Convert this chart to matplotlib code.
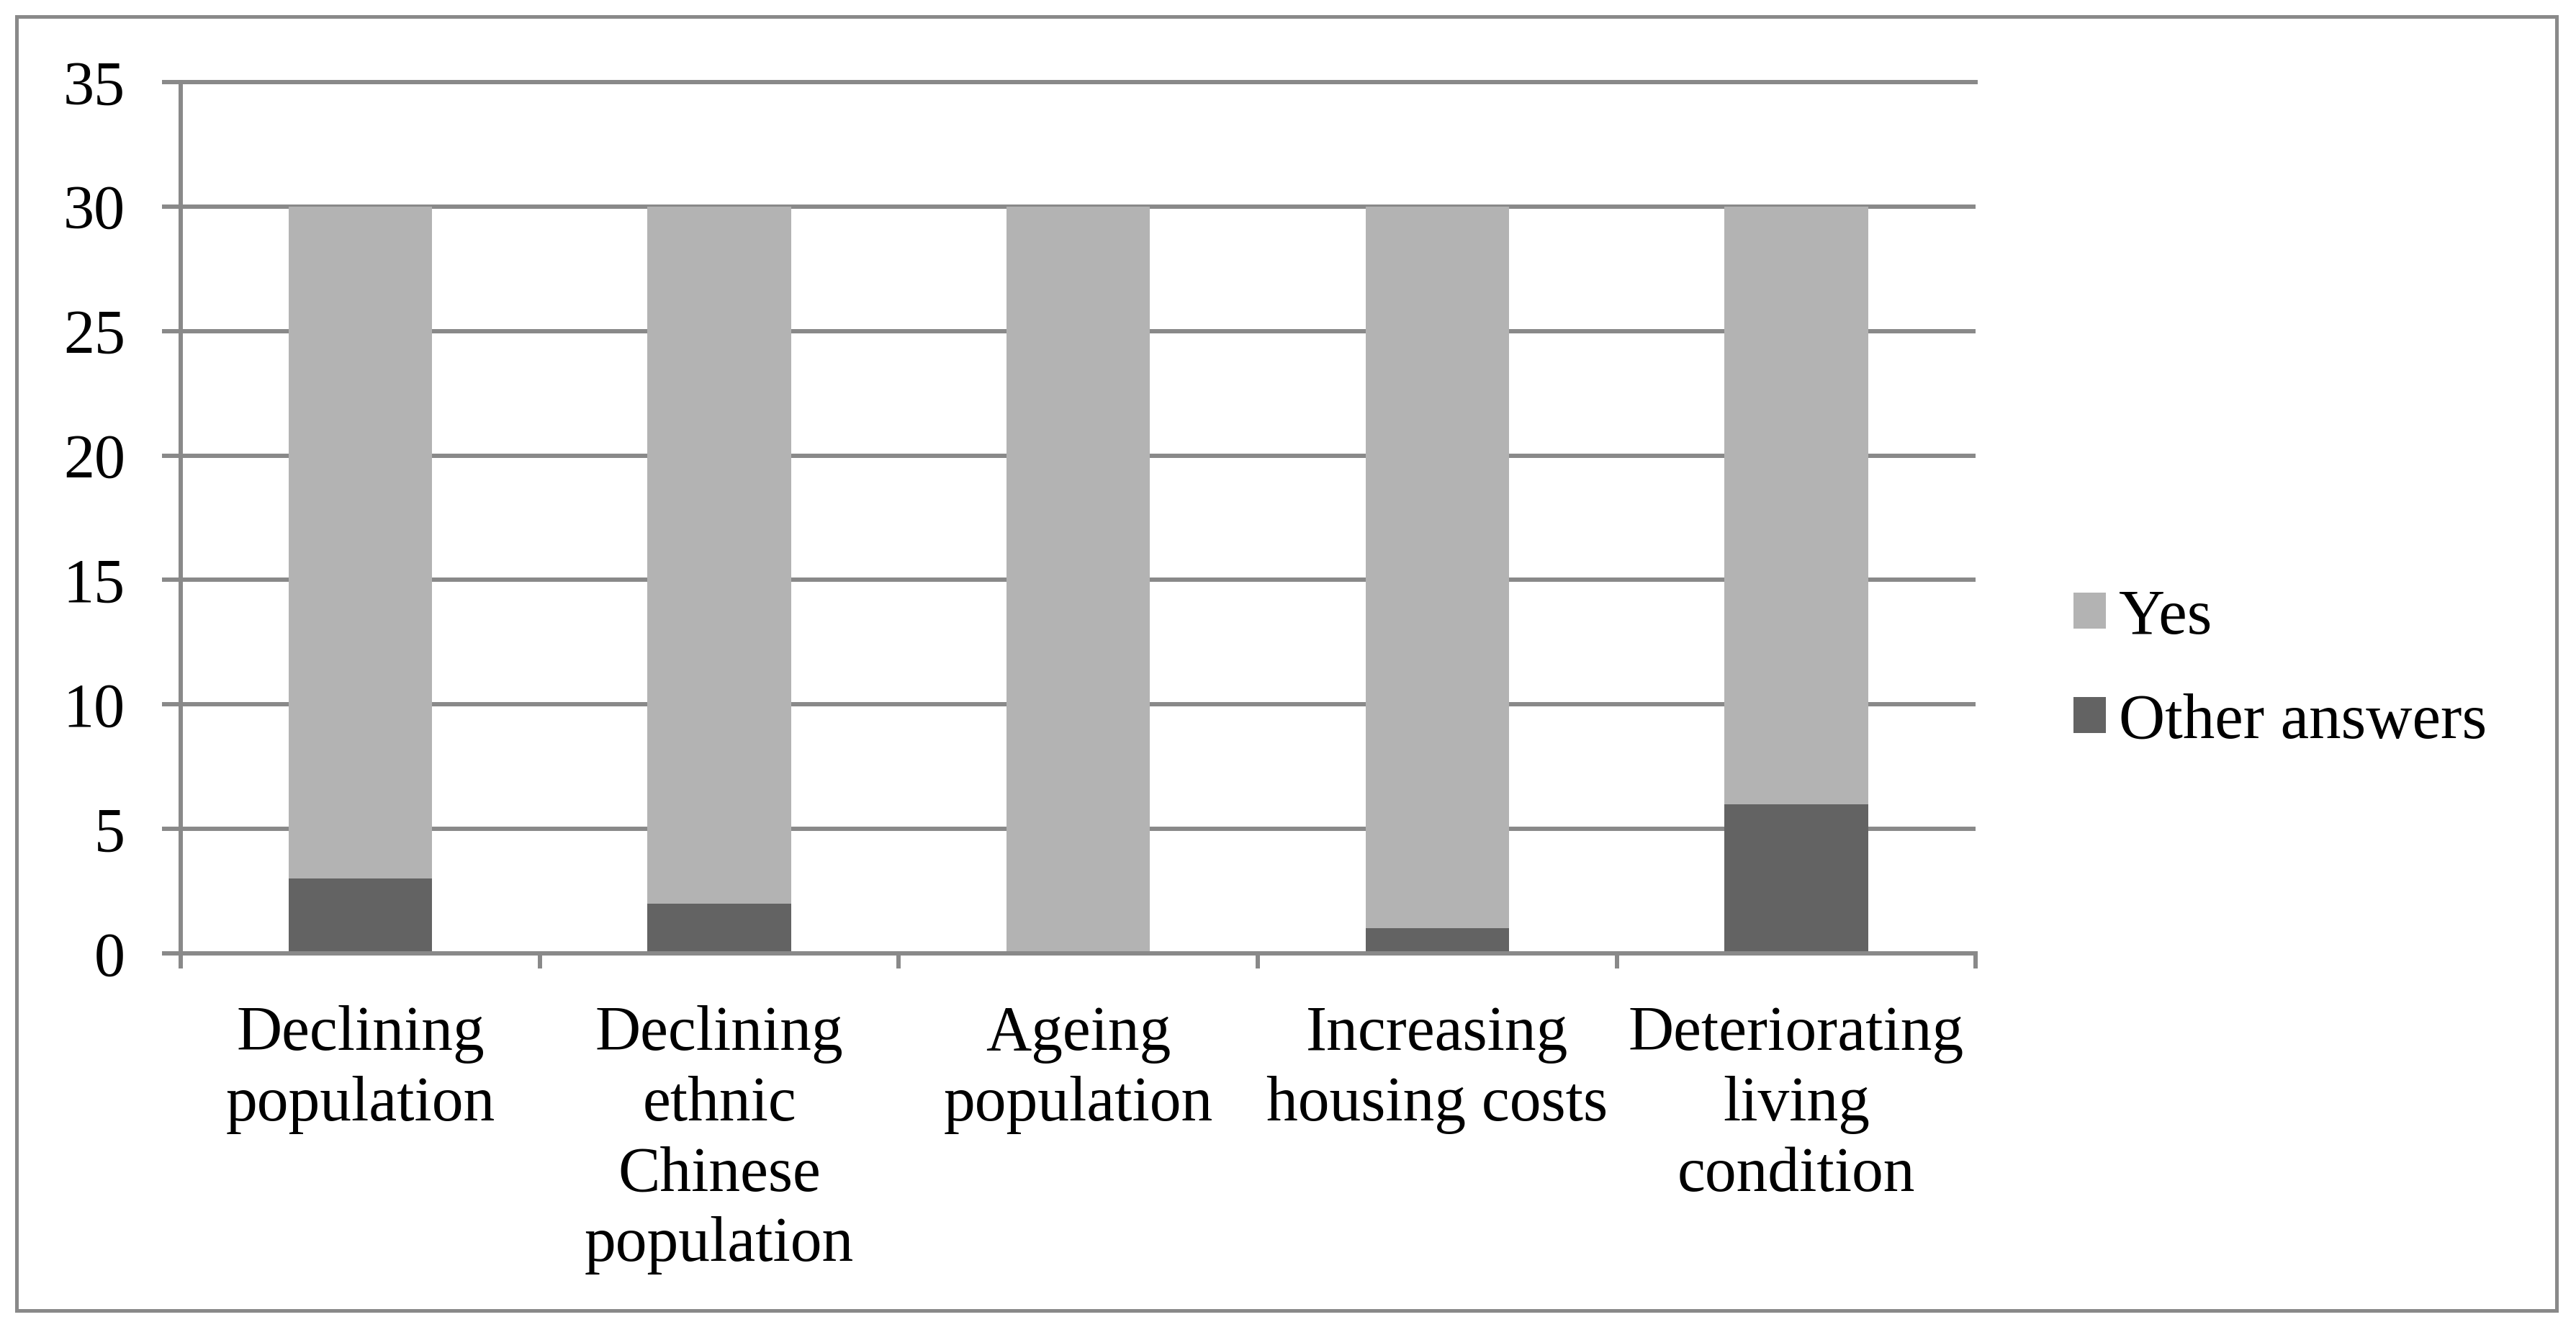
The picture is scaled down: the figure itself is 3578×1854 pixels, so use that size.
import matplotlib
matplotlib.use('Agg')
import matplotlib.pyplot as plt
from matplotlib.patches import Rectangle
import numpy as np

plt.rcParams['font.family'] = ['Liberation Serif', 'DejaVu Serif']

# data
categories = ['Declining\npopulation', 'Declining\nethnic\nChinese\npopulation',
              'Ageing\npopulation', 'Increasing\nhousing costs',
              'Deteriorating\nliving\ncondition']
other = [3, 2, 0, 1, 6]
yes = [27, 28, 30, 29, 24]

gray_line = '#898989'
c_yes = '#b3b3b3'
c_other = '#636363'
lw = 4.3

fig = plt.figure(figsize=(35.78, 18.54), dpi=100)
ax = fig.add_axes([0.0702, 0.2859, 0.767 - 0.0702, 0.9385 - 0.2859])

x = np.arange(len(categories))
ax.bar(x, other, width=0.4, color=c_other, label='Other answers', zorder=2)
ax.bar(x, yes, width=0.4, bottom=other, color=c_yes, label='Yes', zorder=2)

ax.set_xlim(-0.5, len(categories) - 0.5)
ax.set_ylim(0, 35)
ax.set_yticks(range(0, 36, 5))

ax.set_xticks(np.arange(-0.5, len(categories), 1.0))
ax.set_xticklabels([])
ax.set_xticks(x, minor=True)
ax.set_xticklabels(categories, minor=True, fontsize=63, linespacing=1.27)

ax.tick_params(axis='x', which='major', direction='out', length=15, width=lw, color=gray_line)
ax.tick_params(axis='x', which='minor', length=0, pad=52)
ax.tick_params(axis='y', direction='out', length=18.7, width=lw, color=gray_line,
               labelsize=62, pad=37)

ax.yaxis.grid(True, color=gray_line, linewidth=lw, zorder=1)
ax.set_axisbelow(True)

for side in ['left', 'bottom', 'top']:
    ax.spines[side].set_color(gray_line)
    ax.spines[side].set_linewidth(lw)
ax.spines['right'].set_visible(False)
ax.spines['bottom'].set_zorder(3)

handles, labels = ax.get_legend_handles_labels()
fig.legend(handles[::-1], labels[::-1], loc='center left', bbox_to_anchor=(0.805, 0.498),
           frameon=False, fontsize=64, handlelength=0.5, handleheight=0.5,
           handletextpad=0.2, labelspacing=0.72, borderpad=0, borderaxespad=0)

fig.patches.append(Rectangle((0.0064, 0.0183), 0.9861, 0.9693, transform=fig.transFigure,
                             fill=False, edgecolor=gray_line, linewidth=3.6))

fig.savefig('out.png', dpi=100, facecolor='white')
